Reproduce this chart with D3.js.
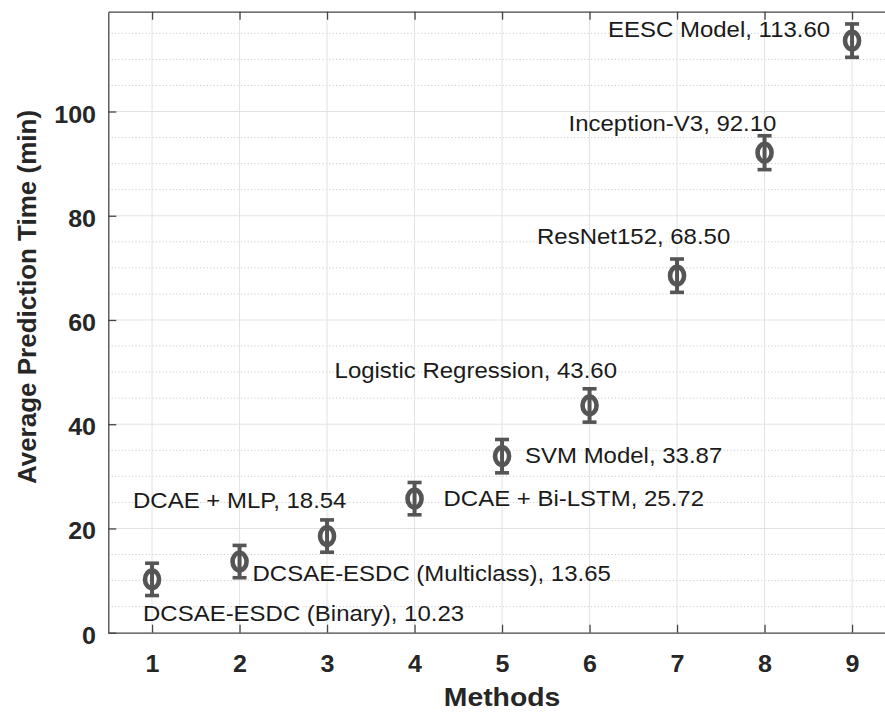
<!DOCTYPE html>
<html>
<head>
<meta charset="utf-8">
<script src="https://cdn.jsdelivr.net/npm/d3@7"></script>
<style>
  html, body { margin: 0; padding: 0; background: #fff; }
  svg { display: block; }
</style>
</head>
<body>
<div id="chart"></div>
<script>
// Average prediction time per method (min), with error bars
const methodIds = [1, 2, 3, 4, 5, 6, 7, 8, 9];
const methodNames = [
    'DCSAE-ESDC (Binary)',
    'DCSAE-ESDC (Multiclass)',
    'DCAE + MLP',
    'DCAE + Bi-LSTM',
    'SVM Model',
    'Logistic Regression',
    'ResNet152',
    'Inception-V3',
    'EESC Model'
];
const predTimes = [10.23, 13.65, 18.54, 25.72, 33.87, 43.60, 68.50, 92.10, 113.60];
const errors = [3.1, 3.1, 3.1, 3.1, 3.2, 3.2, 3.2, 3.25, 3.2];
const yTicks = [0, 20, 40, 60, 80, 100];

// label placement relative to the marker (px): dx to text start, dy to baseline
const labelOffsets = [
    [-9, 42], [13, 19], [-194, -28], [29, 7], [23, 7],
    [-255, -27], [-140, -32], [-196, -22], [-244, -4]
];

function renderChart() {
    const width = 885, height = 712;
    const left = 108.3, right = 895.8, top = 11.7, bottom = 632.7;
    const textSX = 1.09;

    const svg = d3.select('#chart').append('svg')
        .attr('width', width)
        .attr('height', height)
        .style('background', '#fff');

    const x = d3.scaleLinear().domain([0.5, 9.5]).range([left, right]);
    const y = d3.scaleLinear().domain([0, 119.15]).range([bottom, top]);

    // Grid: minor dotted every 5, major solid every 20, vertical at each method
    const minor = d3.range(5, 120, 5).filter(v => v % 20 !== 0);
    svg.append('g').selectAll('line')
        .data(minor)
        .join('line')
        .attr('x1', left).attr('x2', width)
        .attr('y1', d => y(d)).attr('y2', d => y(d))
        .attr('stroke', '#c4c4c4')
        .attr('stroke-width', 1)
        .attr('stroke-dasharray', '1,2.4');

    svg.append('g').selectAll('line')
        .data(yTicks.slice(1))
        .join('line')
        .attr('x1', left).attr('x2', width)
        .attr('y1', d => y(d)).attr('y2', d => y(d))
        .attr('stroke', '#e2e2e2')
        .attr('stroke-width', 1);

    svg.append('g').selectAll('line')
        .data(methodIds)
        .join('line')
        .attr('x1', d => x(d)).attr('x2', d => x(d))
        .attr('y1', top).attr('y2', bottom)
        .attr('stroke', '#e2e2e2')
        .attr('stroke-width', 1);

    // Axes (ticks point inward)
    const axisColor = '#454545';
    const tickFont = 'bold 23px "Liberation Sans", Arial, sans-serif';

    const xAxis = svg.append('g')
        .attr('transform', `translate(0,${bottom})`)
        .call(d3.axisBottom(x).tickValues(methodIds).tickSizeInner(-8).tickSizeOuter(0));
    xAxis.selectAll('text')
        .attr('y', 39)
        .attr('dy', null)
        .attr('transform', `scale(${textSX},1)`)
        .style('font', tickFont)
        .attr('fill', '#262626');

    svg.append('g')
        .attr('transform', `translate(0,${top})`)
        .call(d3.axisTop(x).tickValues(methodIds).tickSizeInner(-8).tickSizeOuter(0).tickFormat(''));

    const yAxis = svg.append('g')
        .attr('transform', `translate(${left},0)`)
        .call(d3.axisLeft(y).tickValues(yTicks).tickSizeInner(-8).tickSizeOuter(0));
    yAxis.selectAll('text')
        .attr('x', -12.3 / textSX)
        .attr('y', 10.5)
        .attr('dy', null)
        .attr('transform', `scale(${textSX},1)`)
        .style('font', tickFont)
        .attr('fill', '#262626');

    svg.selectAll('.domain, .tick line')
        .attr('stroke', axisColor)
        .attr('stroke-width', 1.3);

    // Axis titles
    svg.append('text')
        .attr('transform', `translate(${(left + right) / 2},706) scale(${textSX},1)`)
        .attr('text-anchor', 'middle')
        .style('font', 'bold 26px "Liberation Sans", Arial, sans-serif')
        .attr('fill', '#262626')
        .text('Methods');

    svg.append('text')
        .attr('transform', `translate(36,297) rotate(-90)`)
        .attr('text-anchor', 'middle')
        .style('font', 'bold 26px "Liberation Sans", Arial, sans-serif')
        .attr('fill', '#262626')
        .text('Average Prediction Time (min)');

    // Error bars with circle markers
    const markColor = '#555555';
    const capHalf = 7;
    const pts = svg.append('g').selectAll('g')
        .data(methodIds.map((m, i) => ({ m, v: predTimes[i], e: errors[i], i })))
        .join('g');

    pts.append('line')
        .attr('x1', d => x(d.m)).attr('x2', d => x(d.m))
        .attr('y1', d => y(d.v - d.e)).attr('y2', d => y(d.v + d.e))
        .attr('stroke', markColor).attr('stroke-width', 4);

    [-1, 1].forEach(s => {
        pts.append('line')
            .attr('x1', d => x(d.m) - capHalf).attr('x2', d => x(d.m) + capHalf)
            .attr('y1', d => y(d.v + s * d.e)).attr('y2', d => y(d.v + s * d.e))
            .attr('stroke', markColor).attr('stroke-width', 3.6);
    });

    pts.append('ellipse')
        .attr('cx', d => x(d.m)).attr('cy', d => y(d.v))
        .attr('rx', 7).attr('ry', 8.8)
        .attr('fill', 'none')
        .attr('stroke', markColor).attr('stroke-width', 4.6);

    // Value labels
    pts.append('text')
        .attr('transform', d => {
            const o = labelOffsets[d.i];
            return `translate(${x(d.m) + o[0]},${y(d.v) + o[1]}) scale(${textSX},1)`;
        })
        .style('font', '22px "Liberation Sans", Arial, sans-serif')
        .attr('fill', '#1a1a1a')
        .text(d => `${methodNames[d.i]}, ${d.v.toFixed(2)}`);
}

renderChart();
</script>
</body>
</html>
